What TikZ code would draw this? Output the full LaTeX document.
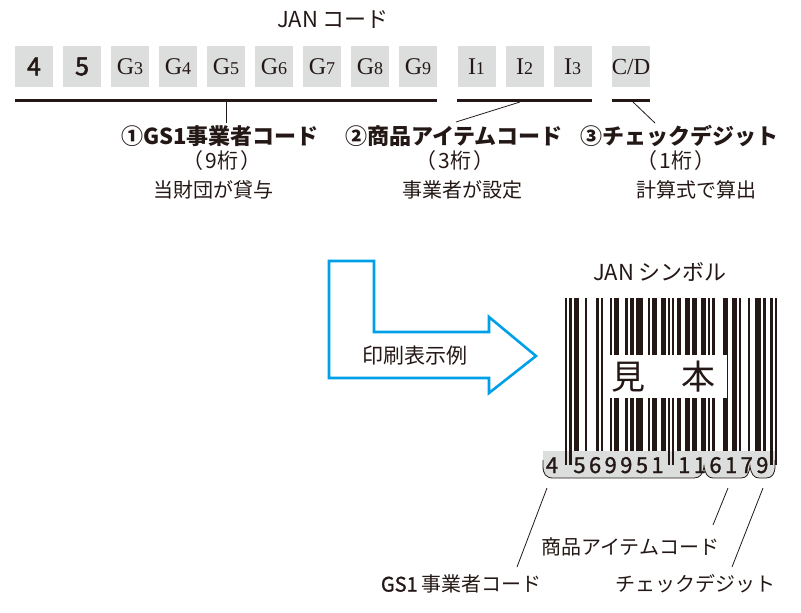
\documentclass[tikz,border=0pt]{standalone}
\usepackage{fontspec}
\setmainfont{Liberation Serif}
\newfontfamily\jp{Noto Sans CJK JP}
\newfontfamily\jpmed[FakeBold=1.2]{Noto Sans CJK JP}
\newfontfamily\jpheavy[FakeBold=2]{Noto Sans CJK JP}
\newcommand\myfs[1]{\fontsize{#1}{#1}\selectfont}
\newcommand\gd[2]{#1{\myfs{18}#2}}
\definecolor{ink}{HTML}{231815}
\definecolor{boxgray}{HTML}{DCDDDD}
\definecolor{arrowblue}{HTML}{00A0E9}
\begin{document}
\begin{tikzpicture}[x=1pt,y=-1pt,
  digitbox/.style={fill=boxgray, minimum width=38pt, minimum height=41pt, inner sep=0pt, text=ink, font=\myfs{24}},
  sansdigit/.style={font=\jpheavy\myfs{25}},
  headlbl/.style={inner sep=0pt, text=ink, font=\jp\bfseries\myfs{22}},
  sublbl/.style={inner sep=0pt, text=ink, font=\jp\myfs{21}},
  plainlbl/.style={inner sep=0pt, text=ink, font=\jp\myfs{20}},
  underbar/.style={line width=3pt, ink},
  leader/.style={line width=0.8pt, ink},
  bandnum/.style={inner sep=0pt, anchor=base, text=ink, font=\jpmed\myfs{22}},
]
\useasboundingbox (0,0) rectangle (801,613);

% ---------- JAN code row ----------
\node[plainlbl, font=\jp\myfs{22}] (jantitle) at (333,20) {JAN コード};

\node[digitbox, sansdigit] (d1) at (34,66.5) {4};
\node[digitbox, sansdigit] (d2) at (82,66.5) {5};
\node[digitbox] (d3) at (130,66.5) {\gd{G}{3}};
\node[digitbox] (d4) at (178,66.5) {\gd{G}{4}};
\node[digitbox] (d5) at (226,66.5) {\gd{G}{5}};
\node[digitbox] (d6) at (274,66.5) {\gd{G}{6}};
\node[digitbox] (d7) at (322,66.5) {\gd{G}{7}};
\node[digitbox] (d8) at (370,66.5) {\gd{G}{8}};
\node[digitbox] (d9) at (418,66.5) {\gd{G}{9}};
\node[digitbox] (i1) at (476.5,66.5) {\gd{I}{1}};
\node[digitbox] (i2) at (524.5,66.5) {\gd{I}{2}};
\node[digitbox] (i3) at (572.5,66.5) {\gd{I}{3}};
\node[digitbox, font=\myfs{23}] (cd) at (631,66.5) {C/D};

\coordinate (l1a) at (15,100.5);  \coordinate (l1b) at (437,100.5);
\coordinate (l2a) at (457,100.5); \coordinate (l2b) at (592,100.5);
\coordinate (l3a) at (612,100.5); \coordinate (l3b) at (650,100.5);
\draw[underbar] (l1a) -- (l1b);
\draw[underbar] (l2a) -- (l2b);
\draw[underbar] (l3a) -- (l3b);

\node[headlbl] (h1) at (220,136) {①GS1事業者コード};
\node[headlbl] (h2) at (454,136) {②商品アイテムコード};
\node[headlbl] (h3) at (679,136) {③チェックデジット};
\node[sublbl] (n1) at (222,161) {（\hspace{2pt}9桁\hspace{2pt}）};
\node[sublbl] (n2) at (455,161) {（\hspace{2pt}3桁\hspace{2pt}）};
\node[sublbl] (n3) at (676,161) {（\hspace{2pt}1桁\hspace{2pt}）};
\node[plainlbl] (s1) at (213,190) {当財団が貸与};
\node[plainlbl] (s2) at (462,190) {事業者が設定};
\node[plainlbl] (s3) at (696,190) {計算式で算出};

\coordinate (u1) at (226,102);
\coordinate (u2) at (520,102);
\coordinate (u3) at (633,102);
\coordinate (e1) at (226,123);
\coordinate (e2) at (456,122);
\coordinate (e3) at (655,123);
\draw[leader] (u1) -- (e1);
\draw[leader] (u2) -- (e2);
\draw[leader] (u3) -- (e3);

% ---------- arrow ----------
\draw[arrowblue, line width=2.6pt, line join=miter]
  (329,261) -- (374,261) -- (374,332) -- (489,332) -- (489,317) -- (536,356)
  -- (489,393) -- (489,378) -- (329,378) -- cycle;
\node[plainlbl, font=\jp\myfs{21}] (arrowlbl) at (415,356) {印刷表示例};

% ---------- JAN symbol ----------
\node[plainlbl, font=\jp\myfs{22}] (symtitle) at (660,272) {JAN シンボル};

% gray digit band with bracket-shaped bottom
\fill[boxgray] (543,451) -- (543,466) .. controls (543,474) and (546,478) .. (553,478)
  -- (694,478) .. controls (700,478) and (703,474) .. (704,466)
  .. controls (705,474) and (708,478) .. (713,478)
  -- (741,478) .. controls (747,478) and (749,474) .. (750,466)
  .. controls (751,474) and (754,478) .. (759,478)
  -- (766,478) .. controls (772,478) and (775,474) .. (775,466) -- (775,451) -- cycle;

% bars (EAN-13 4569951116179)
\def\bx{565}\def\bm{2.23}
\foreach \b [count=\i from 0] in {1,0,1,
  0,1,1,0,0,0,1, 0,0,0,0,1,0,1, 0,0,0,1,0,1,1, 0,0,0,1,0,1,1, 0,1,1,1,0,0,1, 0,1,1,0,0,1,1,
  0,1,0,1,0,
  1,1,0,0,1,1,0, 1,1,0,0,1,1,0, 1,0,1,0,0,0,0, 1,1,0,0,1,1,0, 1,0,0,0,1,0,0, 1,1,1,0,1,0,0,
  1,0,1}{
  \ifnum\b=1
    \pgfmathtruncatemacro\lg{or(\i<3,or(and(\i>44,\i<50),\i>91))}
    \pgfmathsetmacro\xa{\bx+\i*\bm}
    \pgfmathsetmacro\xb{\xa+\bm+0.15}
    \ifnum\lg=1 \def\yb{465}\else\def\yb{451}\fi
    \fill[ink] (\xa,298) rectangle (\xb,\yb);
  \fi
}

% sample window
\fill[white] (609,355) rectangle (727,398);
\node[inner sep=0pt, text=ink, font=\jp\myfs{34}] (mi) at (628,377) {見};
\node[inner sep=0pt, text=ink, font=\jp\myfs{34}] (hon) at (698,377) {本};

% digits under bars
\node[bandnum] (lead) at (552,473) {4};
\foreach \d [count=\k from 0] in {5,6,9,9,5,1}{
  \pgfmathsetmacro\xc{\bx+(6.5+7*\k)*\bm}
  \node[bandnum] (ld\k) at (\xc,473) {\d};
}
\foreach \d [count=\k from 0] in {1,1,6,1,7,9}{
  \pgfmathsetmacro\xc{\bx+(53.5+7*\k)*\bm}
  \node[bandnum] (rd\k) at (\xc,473) {\d};
}

% brackets
\draw[ink, line width=0.8pt] (543,460) -- (543,466) .. controls (543,474) and (546,478) .. (553,478)
  -- (694,478) .. controls (700,478) and (703,474) .. (704,466)
  .. controls (705,474) and (708,478) .. (713,478)
  -- (741,478) .. controls (747,478) and (749,474) .. (750,466)
  .. controls (751,474) and (754,478) .. (759,478)
  -- (766,478) .. controls (772,478) and (775,474) .. (775,466) -- (775,460);

% bottom annotations
\node[plainlbl] (bl2) at (630,547) {商品アイテムコード};
\node[plainlbl] (bl1) at (461,584) {{\jpmed GS1}\,事業者コード};
\node[plainlbl] (bl3) at (695,584) {チェックデジット};

\coordinate (b1s) at (547,488); \coordinate (b1e) at (517,567);
\coordinate (b2s) at (728,488); \coordinate (b2e) at (713,525);
\coordinate (b3s) at (763,488); \coordinate (b3e) at (732,567);
\draw[leader] (b1s) -- (b1e);
\draw[leader] (b2s) -- (b2e);
\draw[leader] (b3s) -- (b3e);
\end{tikzpicture}
\end{document}
